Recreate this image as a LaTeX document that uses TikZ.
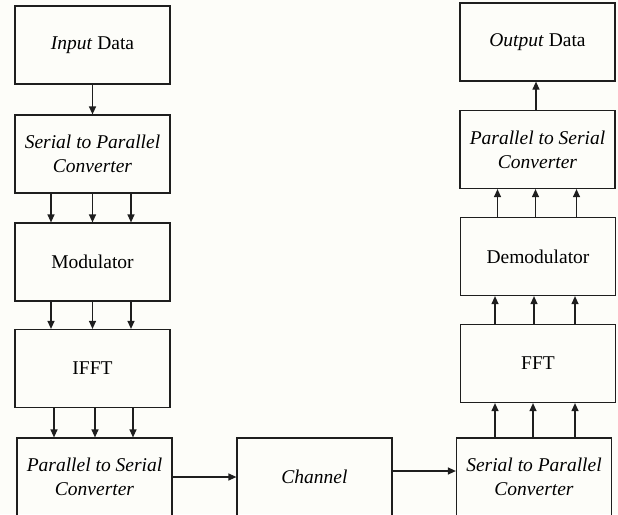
\documentclass[tikz,border=0pt]{standalone}
\usepackage{fontspec}
\setmainfont{Liberation Serif}
\usetikzlibrary{arrows.meta,calc}
\definecolor{bgc}{HTML}{FDFDF9}
\definecolor{linec}{HTML}{1E1E1E}
\begin{document}
\begin{tikzpicture}[x=1pt,y=-1pt,
  blk/.style={draw=linec,line width=1.2pt,minimum width=155pt,minimum height=78pt,
    inner sep=0pt,align=center,font=\fontsize{19.5}{24}\selectfont},
  arr/.style={draw=linec,line width=1.2pt,-{Triangle[length=8pt,width=7pt]}}]
\useasboundingbox (0,0) rectangle (618,514);
\fill[bgc] (0,0) rectangle (618,514);
\clip (0,0) rectangle (618,514);
% left column
\node[blk] (in)   at (92.5,45)   {\textit{Input} Data};
\node[blk] (sp1)  at (92.5,154)  {\textit{Serial to Parallel}\\\textit{Converter}};
\node[blk] (mod)  at (92.5,262)  {Modulator};
\node[blk] (ifft) at (92.5,368.5){IFFT};
\node[blk] (ps1)  at (94.5,477)  {\textit{Parallel to Serial}\\\textit{Converter}};
\node[blk] (ch)   at (314.5,477) {\textit{Channel}};
% right column
\node[blk] (sp2)  at (534,477)   {\textit{Serial to Parallel}\\\textit{Converter}};
\node[blk] (fft)  at (538,363.5) {FFT};
\node[blk] (dem)  at (538,256.5) {Demodulator};
\node[blk] (ps2)  at (537.5,149.5){\textit{Parallel to Serial}\\\textit{Converter}};
\node[blk] (out)  at (537.5,42)  {\textit{Output} Data};
% arrows left
\draw[arr] (in.south) -- (in.south |- sp1.north);
\foreach \d in {-41.5,0,38.5}{
  \draw[arr] ([xshift=\d pt]sp1.south) -- ([xshift=\d pt]sp1.south |- mod.north);
  \draw[arr] ([xshift=\d pt]mod.south) -- ([xshift=\d pt]mod.south |- ifft.north);
}
\foreach \d in {-38.5,2.5,40.5}{
  \draw[arr] ([xshift=\d pt]ifft.south) -- ([xshift=\d pt]ifft.south |- ps1.north);
}
% horizontal
\draw[arr] (ps1.east) -- (ch.west);
\draw[arr] ([yshift=6pt]ch.east) -- ([yshift=6pt]ch.east -| sp2.west);
% arrows right
\foreach \d in {-39,-1,41}{
  \draw[arr] ([xshift=\d pt]sp2.north) -- ([xshift=\d pt]sp2.north |- fft.south);
}
\foreach \d in {-43,-4,37}{
  \draw[arr] ([xshift=\d pt]fft.north) -- ([xshift=\d pt]fft.north |- dem.south);
}
\foreach \d in {-40.5,-2.5,38.5}{
  \draw[arr] ([xshift=\d pt]dem.north) -- ([xshift=\d pt]dem.north |- ps2.south);
}
\draw[arr] ([xshift=-1.5pt]ps2.north) -- ([xshift=-1.5pt]ps2.north |- out.south);
\end{tikzpicture}
\end{document}
